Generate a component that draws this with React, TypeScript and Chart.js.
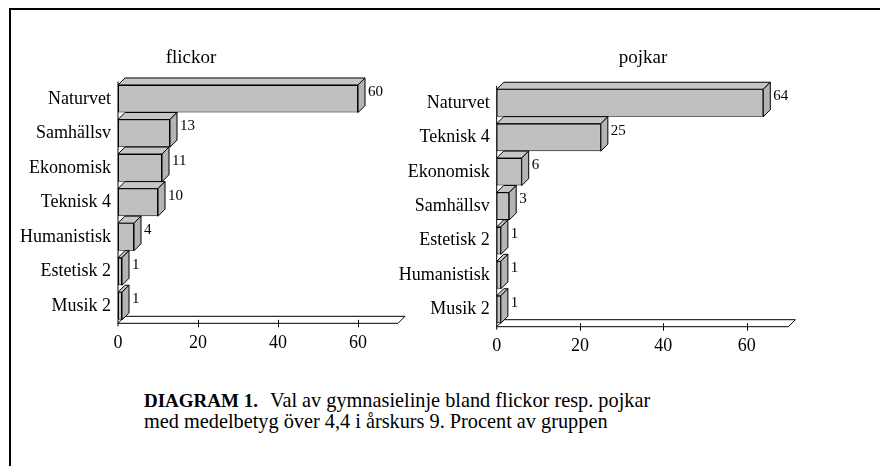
import React, { useEffect, useRef } from "react";
import { Chart, registerables } from "chart.js";

Chart.register(...registerables);

// ---- data ----
const flickorCategories = ["Naturvet", "Samhällsv", "Ekonomisk", "Teknisk 4", "Humanistisk", "Estetisk 2", "Musik 2"];
const flickorValues = [60, 13, 11, 10, 4, 1, 1];
const pojkarCategories = ["Naturvet", "Teknisk 4", "Ekonomisk", "Samhällsv", "Estetisk 2", "Humanistisk", "Musik 2"];
const pojkarValues = [64, 25, 6, 3, 1, 1, 1];
const xTickValues = [0, 20, 40, 60];
const xMax = 70;

const FONT = "Liberation Serif, serif";
const DX = 7;
const DY = 7;

const threeD = {
  id: "threeD",
  beforeDatasetsDraw(chart: any) {
    const ctx = chart.ctx;
    const xs = chart.scales.x;
    const area = chart.chartArea;
    const yF = area.bottom;
    const l = xs.left;
    const r = xs.right;
    ctx.save();
    ctx.lineWidth = 1;
    ctx.strokeStyle = "#000";
    ctx.fillStyle = "#fff";
    ctx.beginPath();
    ctx.moveTo(l, yF);
    ctx.lineTo(r, yF);
    ctx.lineTo(r + DX, yF - DY);
    ctx.lineTo(l + DX, yF - DY);
    ctx.closePath();
    ctx.fill();
    ctx.stroke();
    ctx.beginPath();
    ctx.moveTo(l, area.top);
    ctx.lineTo(l, yF + 3);
    ctx.stroke();
    xs.ticks.forEach((t: any) => {
      if (t.value === 0) return;
      const px = Math.round(xs.getPixelForValue(t.value)) + 0.5;
      ctx.beginPath();
      ctx.moveTo(px, yF - DY / 2);
      ctx.lineTo(px, yF + 4);
      ctx.stroke();
    });
    ctx.restore();
  },
  afterDatasetsDraw(chart: any) {
    const ctx = chart.ctx;
    const meta = chart.getDatasetMeta(0);
    const data = chart.data.datasets[0].data;
    ctx.save();
    ctx.lineWidth = 1;
    ctx.strokeStyle = "#000";
    meta.data.forEach((bar: any, i: number) => {
      const p = bar.getProps(["x", "y", "base", "height"], true);
      const top = p.y - p.height / 2;
      const bottom = p.y + p.height / 2;
      ctx.fillStyle = "#c6c6c6";
      ctx.beginPath();
      ctx.moveTo(p.base, top);
      ctx.lineTo(p.x, top);
      ctx.lineTo(p.x + DX, top - DY);
      ctx.lineTo(p.base + DX, top - DY);
      ctx.closePath();
      ctx.fill();
      ctx.stroke();
      ctx.fillStyle = "#b4b4b4";
      ctx.beginPath();
      ctx.moveTo(p.x, top);
      ctx.lineTo(p.x + DX, top - DY);
      ctx.lineTo(p.x + DX, bottom - DY);
      ctx.lineTo(p.x, bottom);
      ctx.closePath();
      ctx.fill();
      ctx.stroke();
      ctx.fillStyle = "#000";
      ctx.font = `15px ${FONT}`;
      ctx.textAlign = "left";
      ctx.textBaseline = "middle";
      ctx.fillText(String(data[i]), p.x + DX + 3, top + 7);
    });
    ctx.restore();
  },
};

function makeChart(
  canvas: HTMLCanvasElement,
  labels: string[],
  values: number[],
  axisWidth: number,
  pad: { top: number; right: number; bottom: number }
) {
  return new Chart(canvas, {
    type: "bar",
    data: {
      labels,
      datasets: [
        {
          data: values,
          backgroundColor: "#c0c0c0",
          borderColor: "#000",
          borderWidth: 1,
          borderSkipped: false,
          categoryPercentage: 1,
          barPercentage: 0.8,
        },
      ],
    },
    options: {
      indexAxis: "y",
      responsive: false,
      animation: false,
      devicePixelRatio: 1,
      layout: { padding: { left: 0, top: pad.top, right: pad.right, bottom: pad.bottom } },
      plugins: { legend: { display: false }, tooltip: { enabled: false }, title: { display: false } },
      scales: {
        x: {
          type: "linear",
          min: 0,
          max: xMax,
          grid: { display: false, drawTicks: false },
          border: { display: false },
          ticks: {
            stepSize: 20,
            color: "#000",
            padding: 9,
            font: { family: FONT, size: 18 },
          },
          afterBuildTicks: (s: any) => {
            s.ticks = xTickValues.map((v) => ({ value: v }));
          },
          afterFit: (s: any) => {
            s.height = 40;
          },
        },
        y: {
          grid: { display: false, drawTicks: false },
          border: { display: false },
          ticks: {
            color: "#000",
            padding: 7,
            autoSkip: false,
            font: { family: FONT, size: 18 },
          },
          afterFit: (s: any) => {
            s.width = axisWidth;
          },
        },
      },
    },
    plugins: [threeD],
  } as any);
}

export default function App() {
  const leftRef = useRef<HTMLCanvasElement>(null);
  const rightRef = useRef<HTMLCanvasElement>(null);

  useEffect(() => {
    const c1 = makeChart(leftRef.current!, flickorCategories, flickorValues, 118, {
      top: 81.5,
      right: 42,
      bottom: 6.7,
    });
    const c2 = makeChart(rightRef.current!, pojkarCategories, pojkarValues, 116.7, {
      top: 85.8,
      right: 91.7,
      bottom: 3.3,
    });
    return () => {
      c1.destroy();
      c2.destroy();
    };
  }, []);

  const txt: React.CSSProperties = {
    position: "absolute",
    fontFamily: FONT,
    whiteSpace: "nowrap",
    color: "#000",
    margin: 0,
  };

  return (
    <div style={{ position: "absolute", left: 0, top: 0, width: 880, height: 466, background: "#fff", overflow: "hidden" }}>
      <div
        style={{
          position: "absolute",
          left: 9,
          top: 8,
          width: 900,
          height: 500,
          borderTop: "2px solid #000",
          borderLeft: "2px solid #000",
        }}
      />
      <canvas ref={leftRef} width={440} height={370} style={{ position: "absolute", left: 0, top: 0 }} />
      <canvas ref={rightRef} width={500} height={370} style={{ position: "absolute", left: 380, top: 0 }} />
      <div style={{ ...txt, left: 91, width: 200, textAlign: "center", top: 47, fontSize: 19, lineHeight: "19px" }}>flickor</div>
      <div style={{ ...txt, left: 543, width: 200, textAlign: "center", top: 47, fontSize: 19, lineHeight: "19px" }}>pojkar</div>
      <div style={{ ...txt, left: 144, top: 391, fontSize: 19, lineHeight: "19px", fontWeight: "bold" }}>DIAGRAM 1.</div>
      <div style={{ ...txt, left: 270, top: 389.7, fontSize: 20.3, lineHeight: "20.3px" }}>
        Val av gymnasielinje bland flickor resp. pojkar
      </div>
      <div style={{ ...txt, left: 144, top: 411, fontSize: 20.3, lineHeight: "20.3px" }}>
        med medelbetyg över 4,4 i årskurs 9. Procent av gruppen
      </div>
    </div>
  );
}
